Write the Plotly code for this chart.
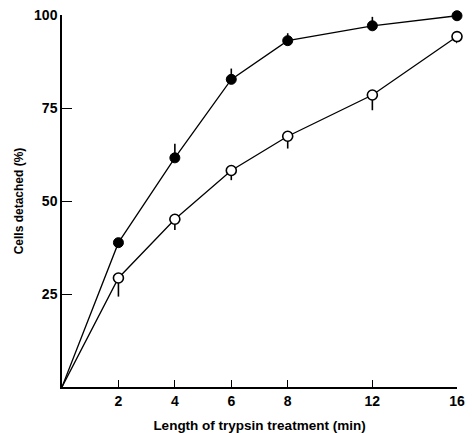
import plotly.graph_objects as go

# Data
time_min = [0, 2, 4, 6, 8, 12, 16]
filled_pct = [0, 38.8, 61.6, 82.7, 93.1, 97.1, 99.8]
filled_err_up = [0, 0.8, 3.8, 2.9, 2.0, 2.4, 0.0]
open_pct = [0, 29.3, 45.1, 58.2, 67.4, 78.5, 94.2]
open_err_down = [0, 5.0, 2.9, 2.6, 3.3, 4.1, 1.8]
x_tick_vals = [2, 4, 6, 8, 12, 16]
y_tick_vals = [25, 50, 75, 100]


def xscale(t):
    # axis is compressed beyond 8 min (4-min steps drawn at 1.5x the 2-min spacing)
    return t if t <= 8 else 8 + (t - 8) * 0.75


xs = [xscale(t) for t in time_min]
FONT = "Liberation Sans"

fig = go.Figure()
# connecting lines (start at origin)
fig.add_trace(go.Scatter(x=xs, y=filled_pct, mode="lines",
                         line=dict(color="black", width=1.3), hoverinfo="skip", showlegend=False))
fig.add_trace(go.Scatter(x=xs, y=open_pct, mode="lines",
                         line=dict(color="black", width=1.3), hoverinfo="skip", showlegend=False))
# markers with one-sided error bars
fig.add_trace(go.Scatter(
    x=xs[1:], y=filled_pct[1:], mode="markers", cliponaxis=False, showlegend=False,
    marker=dict(symbol="circle", size=10, color="black", line=dict(color="black", width=1)),
    error_y=dict(type="data", symmetric=False, array=filled_err_up[1:],
                 arrayminus=[0] * (len(xs) - 1), color="black", thickness=1.6, width=0)))
fig.add_trace(go.Scatter(
    x=xs[1:], y=open_pct[1:], mode="markers", cliponaxis=False, showlegend=False,
    marker=dict(symbol="circle", size=10, color="white", line=dict(color="black", width=1.6)),
    error_y=dict(type="data", symmetric=False, array=[0] * (len(xs) - 1),
                 arrayminus=open_err_down[1:], color="black", thickness=1.6, width=0)))

fig.update_layout(
    width=472, height=433,
    margin=dict(l=62, r=15, t=15, b=46),
    paper_bgcolor="white", plot_bgcolor="white",
    font=dict(family=FONT, color="black", size=13),
)
fig.update_xaxes(
    range=[0, xscale(16)], tickmode="array", automargin=False,
    tickvals=[xscale(v) for v in x_tick_vals], ticktext=[str(v) for v in x_tick_vals],
    ticks="inside", ticklen=7, tickwidth=1.3, tickcolor="black",
    showline=True, linecolor="black", linewidth=1.5, showgrid=False, zeroline=False,
    tickfont=dict(family=FONT, size=14, weight="bold"),
    title=dict(text="Length of trypsin treatment (min)", standoff=15,
               font=dict(family=FONT, size=13.5, weight="bold")),
)
fig.update_yaxes(
    range=[0, 100], tickmode="array", tickvals=y_tick_vals, automargin=False,
    ticktext=[str(v) for v in y_tick_vals],
    ticks="inside", ticklen=10, tickwidth=1.3, tickcolor="black",
    showline=True, linecolor="black", linewidth=1.5, showgrid=False, zeroline=False,
    tickfont=dict(family=FONT, size=14, weight="bold"),
    title=dict(text="Cells detached (%)", standoff=8,
               font=dict(family=FONT, size=12, weight="bold")),
)

fig.write_html("out.html", config={"displayModeBar": False},
               post_script="document.body.style.margin='0';document.body.style.overflow='hidden';")
